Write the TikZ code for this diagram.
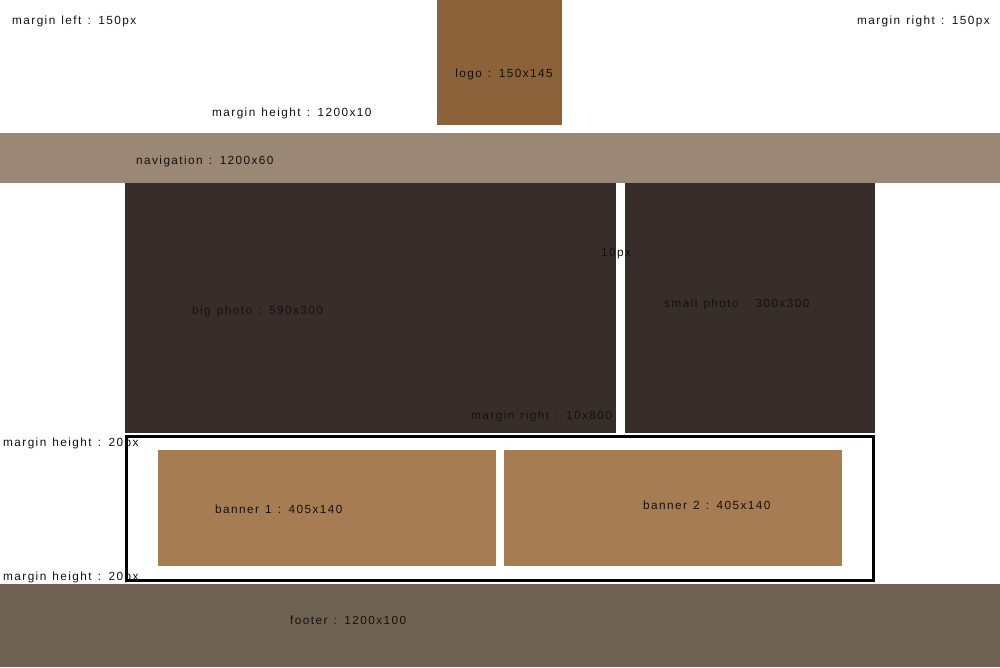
\documentclass[tikz,border=0pt]{standalone}
\usepackage{fontspec}
\setmainfont{Liberation Sans}
\newfontfamily\lblfont[LetterSpace=12,WordSpace=1.3]{Liberation Sans}
\usepackage{xcolor}
\usepackage{tikz}
\usetikzlibrary{positioning}

\definecolor{logobrown}{HTML}{8B6239}
\definecolor{navtaupe}{HTML}{9A8776}
\definecolor{photodark}{HTML}{372E2C}
\definecolor{bannertan}{HTML}{A67D52}
\definecolor{footgrey}{HTML}{706253}
\definecolor{lbltext}{HTML}{141110}

\begin{document}
\begin{tikzpicture}[x=1pt, y=-1pt,
  blk/.style  = {draw=none, inner sep=0pt, outer sep=0pt, anchor=north west},
  frm/.style  = {draw=black, line width=3pt},
  lbl/.style  = {font=\lblfont\fontsize{11.8}{13}\selectfont, text=lbltext,
                 inner sep=0pt, anchor=west, yshift=-2pt}
]
\useasboundingbox (0,0) rectangle (1000,667);

% --- haut : logo et navigation ---
\node[blk, fill=logobrown, minimum width=125pt, minimum height=125pt] (logo) at (437,0) {};
\node[blk, fill=navtaupe, minimum width=1000pt, minimum height=50pt] (nav) at (0,133) {};
\node[lbl] (lleft)  at (12,19)  {margin left : 150px};
\node[lbl, anchor=east] (lright) at (990,19) {margin right : 150px};
\node[lbl, anchor=center] (llogo) at (504,72) {logo : 150x145};
\node[lbl] (lmh)  at (212,111) {margin height : 1200x10};
\node[lbl] (lnav) at (136,159) {navigation : 1200x60};

% --- photos ---
\node[blk, fill=photodark, minimum width=491pt, minimum height=250pt] (big) at (125,183) {};
\node[blk, fill=photodark, minimum width=250pt, minimum height=250pt] (small) at (625,183) {};
\node[lbl] (lbig)   at (192,309) {big photo : 590x300};
\node[lbl] (lsmall) at (664,302) {small photo : 300x300};
\node[lbl] (lgap)   at (601,252) {10px};
\node[lbl] (lmr)    at (471,414) {margin right : 10x800};

% --- bannieres ---
\coordinate (frmnw) at (126.5,436.5);
\coordinate (frmse) at (873.5,580.5);
\draw[frm] (frmnw) rectangle (frmse);
\foreach \x/\n in {158/1, 504/2} {
  \node[blk, fill=bannertan, minimum width=338pt, minimum height=116pt] (ban\n) at (\x,450) {};
}
\node[lbl] (lban1) at (215,507) {banner 1 : 405x140};
\node[lbl] (lban2) at (643,503) {banner 2 : 405x140};
\node[lbl] (lmh1)  at (3,441) {margin height : 20px};
\node[lbl] (lmh2)  at (3,575) {margin height : 20px};

% --- pied de page ---
\node[blk, fill=footgrey, minimum width=1000pt, minimum height=83pt] (foot) at (0,584) {};
\node[lbl] (lfoot) at (290,618) {footer : 1200x100};
\end{tikzpicture}
\end{document}
